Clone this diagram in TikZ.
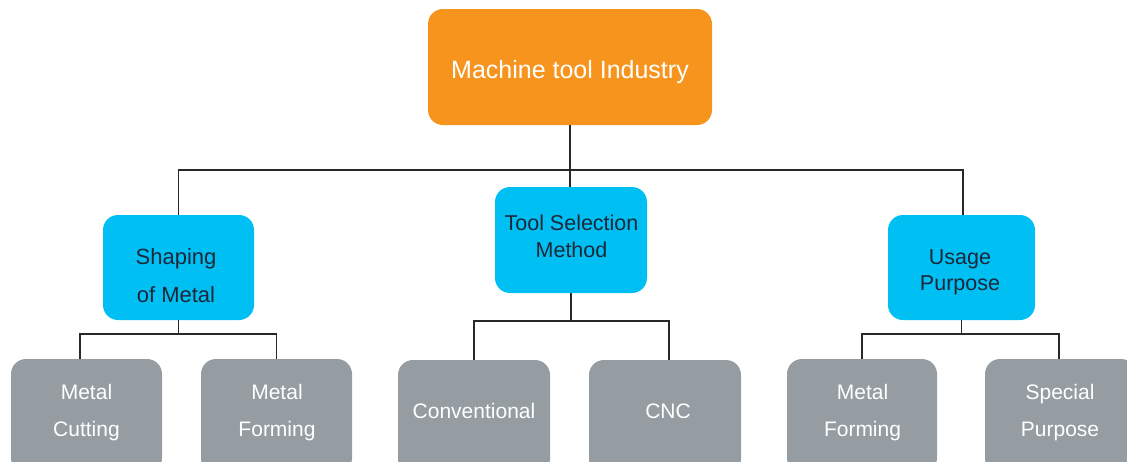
\documentclass[tikz,border=0pt]{standalone}
\usepackage{fontspec}
\setmainfont{Liberation Sans}
\definecolor{orangeC}{RGB}{247,148,29}
\definecolor{blueC}{RGB}{0,191,243}
\definecolor{grayC}{RGB}{149,157,163}
\definecolor{navyC}{RGB}{28,40,58}
\definecolor{lineC}{RGB}{40,40,40}
\tikzset{
  box/.style={rectangle, rounded corners=15pt, inner sep=0pt, draw=none},
  topbox/.style={box, fill=orangeC, minimum width=284pt, minimum height=116pt},
  midbox/.style={box, fill=blueC, minimum height=105pt},
  leafbox/.style={box, fill=grayC, minimum width=151pt, minimum height=114pt},
  toplabel/.style={text=white, font=\fontsize{25}{30}\selectfont, align=center, inner sep=0pt},
  midlabel/.style={text=navyC, align=center, inner sep=0pt},
  leaflabel/.style={text=white, font=\fontsize{21}{37}\selectfont, align=center, inner sep=0pt},
  conn/.style={draw=lineC, line width=1.5pt}
}
\begin{document}
\begin{tikzpicture}[x=1pt,y=-1pt]
\useasboundingbox (0,0) rectangle (1127,461);
\clip (0,0) rectangle (1127,461);
\fill[white] (0,0) rectangle (1127,461);
% boxes
\node[topbox] (top) at (570,67) {};
\node[midbox, minimum width=151pt] (shaping) at (178.5,267.5) {};
\node[midbox, minimum width=152pt, minimum height=106pt] (tsm) at (571,240) {};
\node[midbox, minimum width=147pt] (usage) at (961.5,267.5) {};
\node[leafbox] (mc) at (86.5,416) {};
\node[leafbox] (mf) at (276.5,416) {};
\node[leafbox, minimum width=152pt] (conv) at (474,417) {};
\node[leafbox, minimum width=152pt] (cnc) at (665,417) {};
\node[leafbox, minimum width=150pt] (mf2) at (862,416) {};
\node[leafbox] (sp) at (1060.5,416) {};
% labels
\node[toplabel] (topl) at (570,72) {Machine tool Industry};
\node[midlabel, font=\fontsize{22}{38}\selectfont] (shapingl) at (176,275.5) {Shaping\\of Metal};
\node[midlabel, font=\fontsize{21.5}{27}\selectfont] (tsml) at (571.5,236.5) {Tool Selection\\Method};
\node[midlabel, font=\fontsize{21.5}{26}\selectfont] (usagel) at (960,272) {Usage\\Purpose};
\node[leaflabel] (mcl) at (86.5,413) {Metal\\Cutting};
\node[leaflabel] (mfl) at (277,413) {Metal\\Forming};
\node[leaflabel] (convl) at (474,411) {Conventional};
\node[leaflabel] (cncl) at (668,411) {CNC};
\node[leaflabel] (mf2l) at (862.5,413) {Metal\\Forming};
\node[leaflabel] (spl) at (1060,413) {Special\\Purpose};
% bus levels
\coordinate (bus0) at (0,170);
\coordinate (busA) at (0,334);
\coordinate (busB) at (0,321);
% connectors
\draw[conn] (top.south) -- (top.south |- tsm.north);
\draw[conn] (shaping.north) |- ([xshift=1.5pt]usage.north |- bus0) -- ([xshift=1.5pt]usage.north);
\draw[conn] (shaping.south) -- (shaping.south |- busA);
\draw[conn] ([xshift=-6.5pt]mc.north) |- (mf.north |- busA) -- (mf.north);
\draw[conn] (tsm.south) -- (tsm.south |- busB);
\draw[conn] (conv.north) |- ([xshift=4pt]cnc.north |- busB) -- ([xshift=4pt]cnc.north);
\draw[conn] (usage.south) -- (usage.south |- busA);
\draw[conn] (mf2.north) |- ([xshift=-1.5pt]sp.north |- busA) -- ([xshift=-1.5pt]sp.north);
\end{tikzpicture}
\end{document}
